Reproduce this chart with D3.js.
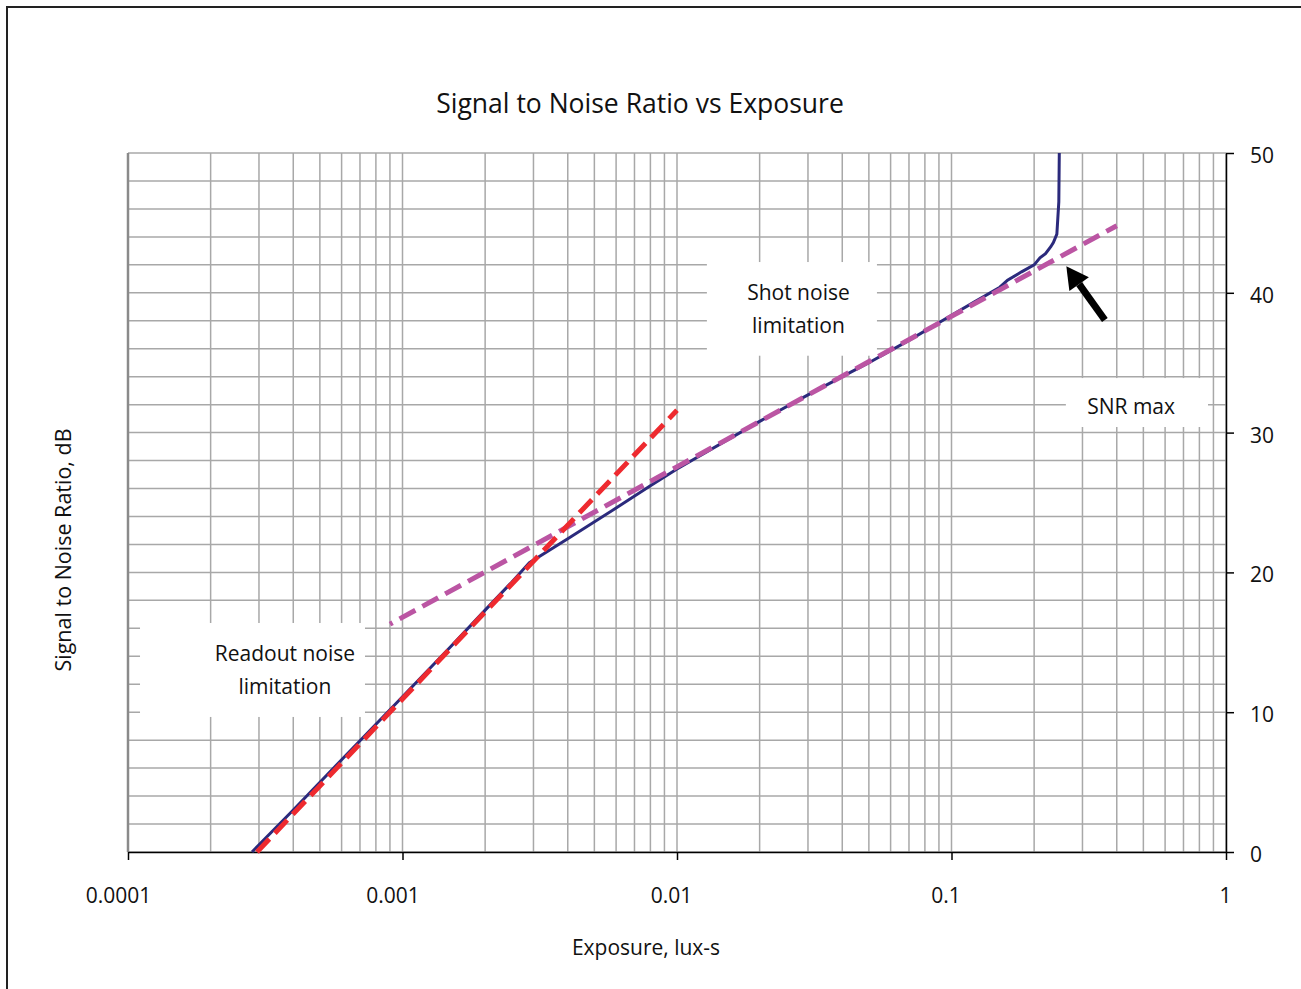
<!DOCTYPE html>
<html><head><meta charset="utf-8">
<script src="https://cdn.jsdelivr.net/npm/d3@7"></script>
<style>
body{margin:0;background:#fff;}
text{font-family:"Open Sans","Noto Sans",sans-serif;fill:#111;}
</style></head>
<body>
<svg id="c" width="1301" height="989"></svg>
<script>
// ---- data ----
const measuredX = [2.83e-4,4.0e-4,6.0e-4,1.0e-3,1.5e-3,2.0e-3,2.5e-3,2.9e-3,4.0e-3,6.0e-3,8.0e-3,0.01,0.02,0.03,0.04,0.05,0.07,0.1,0.12,0.15,0.16,0.18,0.2,0.21,0.22,0.23,0.235,0.242,0.246,0.247];
const measuredY = [0,3.0,6.6,11.1,14.7,17.3,19.3,20.7,22.4,24.6,26.2,27.4,30.8,32.7,34.0,35.0,36.6,38.4,39.3,40.4,40.9,41.5,42.0,42.5,42.8,43.3,43.6,44.2,46.5,50];
const readoutX = [2.95e-4,0.01];
const readoutY = [0,31.6];
const shotX = [9.0e-4,0.4];
const shotY = [16.3,44.8];
const xTickValues = [1e-4,1e-3,1e-2,1e-1,1];
const xTickLabels = ["0.0001","0.001","0.01","0.1","1"];
const yTickValues = [0,10,20,30,40,50];
const arrowFrom = [0.362,38.05];
const arrowTo = [0.262,41.9];
const labels = [
  {lines:["Shot noise","limitation"], x:0.0277, y:39.45, box:[0.01285,0.0535,42.2,35.5]},
  {lines:["SNR max"], x:0.451, y:31.35, box:[0.261,0.86,33.9,30.4]},
  {lines:["Readout noise","limitation"], x:3.73e-4, y:13.65, box:[1.106e-4,7.3e-4,16.38,9.66]}
];

// ---- chart ----
const svg = d3.select("#c");
const x = d3.scaleLog().domain([1e-4,1]).range([128,1226]);
const y = d3.scaleLinear().domain([0,50]).range([852,153]);
const FONT = "'Open Sans','Noto Sans',sans-serif";

// outer frame
svg.append("rect").attr("x",7).attr("y",7).attr("width",1320).attr("height",1000)
  .attr("fill","none").attr("stroke","#222").attr("stroke-width",2);

// grid
const vGrid = [];
[1e-4,1e-3,1e-2,1e-1].forEach(d=>{for(let k=1;k<=9;k++) vGrid.push(d*k);});
vGrid.push(1);
const g = svg.append("g");
g.selectAll("line.v").data(vGrid).join("line")
  .attr("x1",d=>x(d)).attr("x2",d=>x(d)).attr("y1",y(0)).attr("y2",y(50))
  .attr("stroke","#a8a8a8").attr("stroke-width",1.5);
g.selectAll("line.h").data(d3.range(0,51,2)).join("line")
  .attr("x1",x(1e-4)).attr("x2",x(1)).attr("y1",d=>y(d)).attr("y2",d=>y(d))
  .attr("stroke","#a8a8a8").attr("stroke-width",1.5);
g.append("line").attr("x1",x(1e-4)).attr("x2",x(1e-4)).attr("y1",y(0)).attr("y2",y(50))
  .attr("stroke","#8a8a8a").attr("stroke-width",2.5);

// label boxes
labels.forEach(l=>{
  const [x0,x1,y0,y1]=l.box;
  svg.append("rect").attr("x",x(x0)).attr("y",y(y0)).attr("width",x(x1)-x(x0)).attr("height",y(y1)-y(y0))
    .attr("fill","#fff");
});

// axes
const xAxis = d3.axisBottom(x).tickValues(xTickValues).tickFormat((d,i)=>xTickLabels[i]).tickSize(8).tickSizeOuter(0);
const xg = svg.append("g").attr("transform",`translate(0,${y(0)})`).call(xAxis);
xg.select(".domain").attr("stroke","#000").attr("stroke-width",1.5);
xg.selectAll(".tick line").attr("stroke","#000").attr("stroke-width",1.5);
xg.selectAll(".tick text").attr("font-size",21).attr("y",36).attr("dy","0.71em").attr("dx",(d,i)=>i<2?-10:(i<4?-6:-1))
  .attr("font-family",FONT).attr("fill","#111");

const yAxis = d3.axisRight(y).tickValues(yTickValues).tickSize(8).tickSizeOuter(0);
const yg = svg.append("g").attr("transform",`translate(${x(1)},0)`).call(yAxis);
yg.select(".domain").attr("stroke","#000").attr("stroke-width",1.5);
yg.selectAll(".tick line").attr("stroke","#000").attr("stroke-width",1.5);
yg.selectAll(".tick text").attr("font-size",21).attr("x",24).attr("dy","0.45em")
  .attr("font-family",FONT).attr("fill","#111");

// lines
const line = d3.line().x(d=>x(d[0])).y(d=>y(d[1]));
svg.append("path").datum(measuredX.map((v,i)=>[v,measuredY[i]]))
  .attr("d",line).attr("fill","none").attr("stroke","#2b2a7c").attr("stroke-width",3);
svg.append("path").datum(shotX.map((v,i)=>[v,shotY[i]]))
  .attr("d",line).attr("fill","none").attr("stroke","#bb55a3").attr("stroke-width",5)
  .attr("stroke-dasharray","18,8").attr("stroke-dashoffset",15);
svg.append("path").datum(readoutX.map((v,i)=>[v,readoutY[i]]))
  .attr("d",line).attr("fill","none").attr("stroke","#ee2a2f").attr("stroke-width",5)
  .attr("stroke-dasharray","18,8");

// arrow
const ax0=x(arrowFrom[0]), ay0=y(arrowFrom[1]), ax1=x(arrowTo[0]), ay1=y(arrowTo[1]);
const ang=Math.atan2(ay1-ay0,ax1-ax0);
const hl=22, hw=12;
const bx=ax1-hl*Math.cos(ang), by=ay1-hl*Math.sin(ang);
svg.append("line").attr("x1",ax0).attr("y1",ay0).attr("x2",bx).attr("y2",by)
  .attr("stroke","#000").attr("stroke-width",7);
svg.append("path").attr("d",`M${ax1},${ay1}L${bx+hw*Math.sin(ang)},${by-hw*Math.cos(ang)}L${bx-hw*Math.sin(ang)},${by+hw*Math.cos(ang)}Z`)
  .attr("fill","#000");

// labels
labels.forEach(l=>{
  const t = svg.append("text").attr("text-anchor","middle").attr("font-size",21);
  l.lines.forEach((s,i)=>{
    t.append("tspan").attr("x",x(l.x)).attr("y",y(l.y)+i*33).text(s);
  });
});

// titles
svg.append("text").attr("x",640).attr("y",113).attr("text-anchor","middle").attr("font-size",26.5)
  .text("Signal to Noise Ratio vs Exposure");
svg.append("text").attr("x",646).attr("y",955).attr("text-anchor","middle").attr("font-size",21)
  .text("Exposure, lux-s");
svg.append("text").attr("transform","translate(71,550) rotate(-90)").attr("text-anchor","middle").attr("font-size",21.5)
  .text("Signal to Noise Ratio, dB");
</script>
</body></html>
